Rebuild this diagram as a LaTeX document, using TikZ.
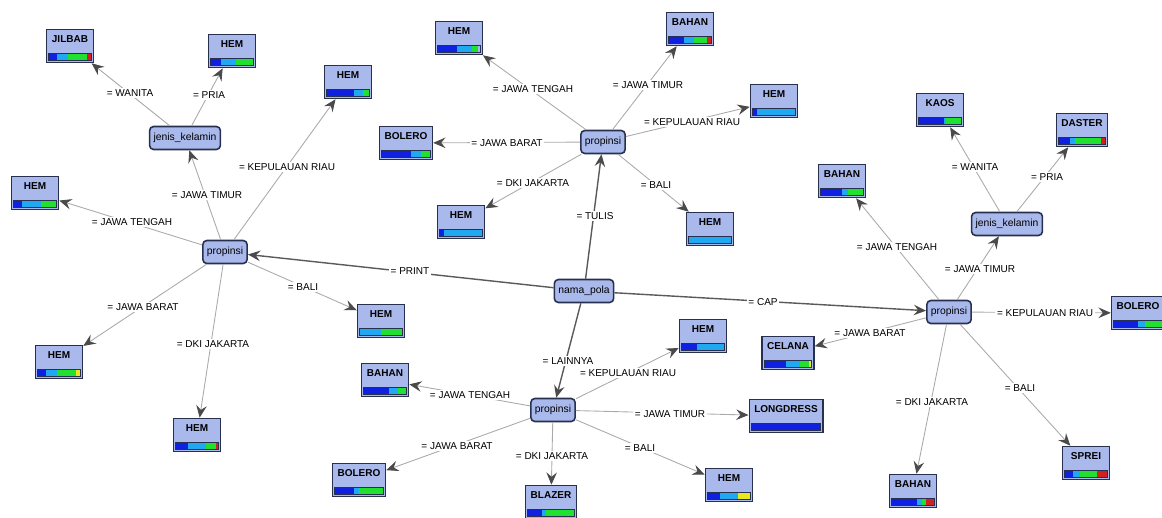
\documentclass[tikz,border=0pt]{standalone}
\usepackage{fontspec}
\setmainfont{Liberation Sans}
\usetikzlibrary{arrows.meta,calc}
\definecolor{nfill}{HTML}{AAB9EC}
\definecolor{nborder}{HTML}{27304F}
\definecolor{edgegray}{HTML}{AAAAAA}
\definecolor{rootgray}{HTML}{5A5A5A}
\definecolor{tipgray}{HTML}{4A4A4A}
\definecolor{cb}{HTML}{1020E0}
\definecolor{ccy}{HTML}{20A8F0}
\definecolor{cg}{HTML}{20E030}
\definecolor{cyl}{HTML}{E8E820}
\definecolor{cr}{HTML}{D02020}
\tikzset{
  leafbox/.style={draw=nborder,line width=0.9pt,fill=nfill,minimum width=0.94cm,minimum height=0.66cm,
    inner xsep=0.1cm,inner ysep=0pt,text height=2mm,text depth=3.4mm,font=\fontsize{5.7pt}{6.5pt}\selectfont\bfseries},
  inner/.style={draw=nborder,line width=0.9pt,fill=nfill,rounded corners=0.08cm,minimum height=0.46cm,
    inner xsep=0.08cm,inner ysep=0pt,font=\fontsize{5.9pt}{6.7pt}\selectfont},
  bar/.style={draw=nborder,line width=0.5pt},
  edge/.style={draw=edgegray,line width=0.5pt,-{Stealth[length=7pt,width=6pt,inset=2.5pt,color=tipgray]}},
  rootedge/.style={draw=rootgray,line width=0.8pt,-{Stealth[length=7pt,width=6pt,inset=2.5pt,color=tipgray]}},
  lab/.style={fill=white,inner sep=1pt}
}
\newcommand\leaf[4]{%
  \node[leafbox] (#1) at (#2) {#3};
  \coordinate (#1bl) at ($(#1.south west)+(3,-3)$);
  \coordinate (#1br) at ($(#1.south east)+(-3,-3)$);
  \coordinate (#1tl) at ($(#1bl)+(0,-7)$);
  \coordinate (#1tr) at ($(#1br)+(0,-7)$);
  \foreach \fa/\fb/\fcol in {#4} {\fill[\fcol] ($(#1bl)!\fa!(#1br)$) rectangle ($(#1tl)!\fb!(#1tr)$);}
  \draw[bar] (#1bl) rectangle (#1tr);
}
\begin{document}
\begin{tikzpicture}[x=0.02cm,y=-0.02cm,font=\fontsize{5.7pt}{6.5pt}\selectfont]
\useasboundingbox (0,0) rectangle (1162,517);
% internal nodes
\node[inner] (root) at (584,291) {nama\_pola};
\node[inner] (pL) at (225,252) {propinsi};
\node[inner] (jkL) at (185,138) {jenis\_kelamin};
\node[inner] (pM) at (603,142) {propinsi};
\node[inner] (pR) at (949,312) {propinsi};
\node[inner] (jkR) at (1007,224) {jenis\_kelamin};
\node[inner] (pB) at (553,410) {propinsi};
% leaves
\leaf{l1}{70,46}{JILBAB}{0/.2/cb,.2/.45/ccy,.45/.9/cg,.9/1/cr}
\leaf{l2}{232,51}{HEM}{0/.25/cb,.25/.6/ccy,.6/1/cg}
\leaf{l3}{348,82}{HEM}{0/.65/cb,.65/.85/ccy,.85/1/cg}
\leaf{l4}{35,193}{HEM}{0/.2/cb,.2/.65/ccy,.65/1/cg}
\leaf{l5}{59,362}{HEM}{0/.2/cb,.2/.45/ccy,.45/.9/cg,.9/1/cyl}
\leaf{l6}{197,435}{HEM}{0/.3/cb,.3/.7/ccy,.7/.95/cg,.95/1/cr}
\leaf{l7}{381,321}{HEM}{0/.5/ccy,.5/1/cg}
\leaf{l8}{459,38}{HEM}{0/.45/cb,.45/.8/ccy,.8/.95/cg}
\leaf{l9}{690,29}{BAHAN}{0/.35/cb,.35/.6/ccy,.6/.9/cg,.9/1/cr}
\leaf{l10}{774,101}{HEM}{0/.1/cb,.1/1/ccy}
\leaf{l11}{406,143}{BOLERO}{0/.6/cb,.6/.8/ccy,.8/1/cg}
\leaf{l12}{461,222}{HEM}{0/.1/cb,.1/1/ccy}
\leaf{l13}{710,229}{HEM}{0/1/ccy}
\leaf{l14}{842,181}{BAHAN}{0/.5/cb,.5/.65/ccy,.65/1/cg}
\leaf{l15}{940,110}{KAOS}{0/.6/cb,.6/.65/ccy,.65/1/cg}
\leaf{l16}{1082,130}{DASTER}{0/.25/cb,.25/.35/ccy,.35/.9/cg,.9/1/cr}
\leaf{l17}{1138,313}{BOLERO}{0/.5/cb,.5/.65/ccy,.65/1/cg}
\leaf{l18}{788,353}{CELANA}{0/.45/cb,.45/.75/ccy,.75/.95/cg,.95/1/cyl}
\leaf{l19}{1086,463}{SPREI}{0/.2/cb,.2/.35/ccy,.35/.75/cg,.75/1/cr}
\leaf{l20}{913,491}{BAHAN}{0/.6/cb,.6/.7/ccy,.7/.8/cg,.8/1/cr}
\leaf{l21}{703,336}{HEM}{0/.35/cb,.35/1/ccy}
\leaf{l22}{385,380}{BAHAN}{0/.6/cb,.6/.8/ccy,.8/1/cg}
\leaf{l23}{786,416}{LONGDRESS}{0/1/cb}
\leaf{l24}{359,480}{BOLERO}{0/.4/cb,.4/.5/ccy,.5/1/cg}
\leaf{l25}{551,502}{BLAZER}{0/.3/cb,.3/.4/ccy,.4/1/cg}
\leaf{l26}{729,485}{HEM}{0/.3/cb,.3/.7/ccy,.7/1/cyl}
% edges
\draw[rootedge] (root) -- (pL);
\draw[rootedge] (root) -- (pM);
\draw[rootedge] (root) -- (pR);
\draw[rootedge] (root) -- (pB);
\draw[edge] (pL) -- (jkL);
\draw[edge] (pL) -- (l3);
\draw[edge] (pL) -- (l4);
\draw[edge] (pL) -- (l5);
\draw[edge] (pL) -- (l6);
\draw[edge] (pL) -- (l7);
\draw[edge] (jkL) -- (l1);
\draw[edge] (jkL) -- (l2);
\draw[edge] (pM) -- (l8);
\draw[edge] (pM) -- (l9);
\draw[edge] (pM) -- (l10);
\draw[edge] (pM) -- (l11);
\draw[edge] (pM) -- (l12);
\draw[edge] (pM) -- (l13);
\draw[edge] (pR) -- (l14);
\draw[edge] (pR) -- (jkR);
\draw[edge] (pR) -- (l17);
\draw[edge] (pR) -- (l18);
\draw[edge] (pR) -- (l20);
\draw[edge] (pR) -- (l19);
\draw[edge] (jkR) -- (l15);
\draw[edge] (jkR) -- (l16);
\draw[edge] (pB) -- (l21);
\draw[edge] (pB) -- (l22);
\draw[edge] (pB) -- (l23);
\draw[edge] (pB) -- (l24);
\draw[edge] (pB) -- (l25);
\draw[edge] (pB) -- (l26);
% labels
\node[lab] (a1) at (207,195) {= JAWA TIMUR};
\node[lab] (a2) at (287,167) {= KEPULAUAN RIAU};
\node[lab] (a3) at (132,222) {= JAWA TENGAH};
\node[lab] (a4) at (143,307) {= JAWA BARAT};
\node[lab] (a5) at (213,344) {= DKI JAKARTA};
\node[lab] (a6) at (303,287) {= BALI};
\node[lab] (a7) at (130,93) {= WANITA};
\node[lab] (a8) at (209,95) {= PRIA};
\node[lab] (b1) at (533,89) {= JAWA TENGAH};
\node[lab] (b2) at (648,85) {= JAWA TIMUR};
\node[lab] (b3) at (692,122) {= KEPULAUAN RIAU};
\node[lab] (b4) at (507,143) {= JAWA BARAT};
\node[lab] (b5) at (533,183) {= DKI JAKARTA};
\node[lab] (b6) at (656,185) {= BALI};
\node[lab] (r1) at (410,271) {= PRINT};
\node[lab] (r2) at (595,216) {= TULIS};
\node[lab] (r3) at (763,302) {= CAP};
\node[lab] (r4) at (568,361) {= LAINNYA};
\node[lab] (c1) at (897,247) {= JAWA TENGAH};
\node[lab] (c2) at (980,269) {= JAWA TIMUR};
\node[lab] (c3) at (1045,313) {= KEPULAUAN RIAU};
\node[lab] (c4) at (870,333) {= JAWA BARAT};
\node[lab] (c5) at (932,402) {= DKI JAKARTA};
\node[lab] (c6) at (1020,388) {= BALI};
\node[lab] (c7) at (975,167) {= WANITA};
\node[lab] (c8) at (1047,177) {= PRIA};
\node[lab] (d1) at (628,373) {= KEPULAUAN RIAU};
\node[lab] (d2) at (470,395) {= JAWA TENGAH};
\node[lab] (d3) at (670,414) {= JAWA TIMUR};
\node[lab] (d4) at (457,446) {= JAWA BARAT};
\node[lab] (d5) at (552,456) {= DKI JAKARTA};
\node[lab] (d6) at (640,448) {= BALI};
\end{tikzpicture}
\end{document}
